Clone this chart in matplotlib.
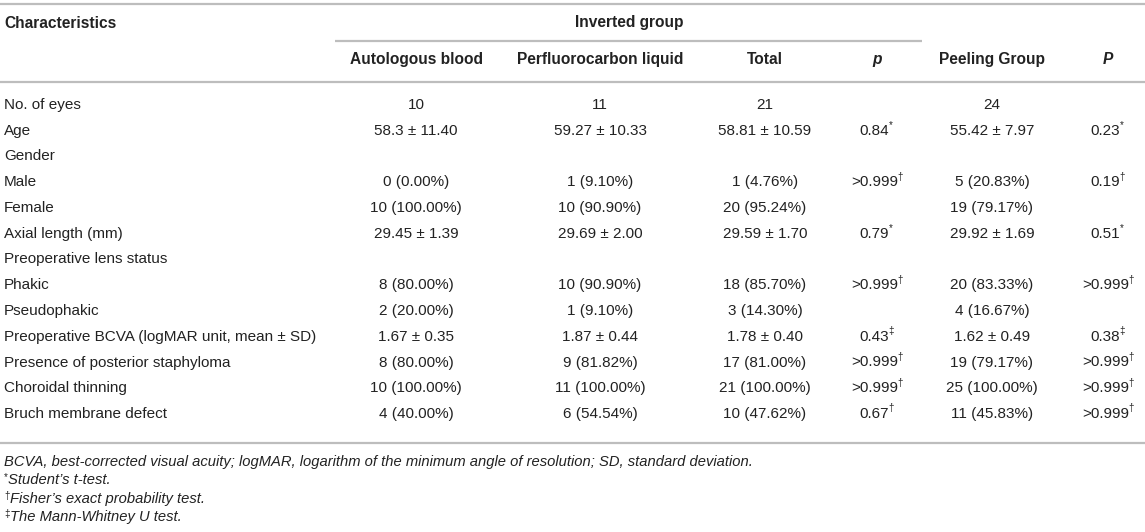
import matplotlib
matplotlib.use("Agg")
import matplotlib.pyplot as plt

plt.rcParams['font.family'] = ['Liberation Sans', 'DejaVu Sans']

# ---- table content ----
group_header = 'Inverted group'
col_headers = ['Autologous blood', 'Perfluorocarbon liquid', 'Total', 'p', 'Peeling Group', 'P']

row_labels = ['No. of eyes', 'Age', 'Gender', 'Male', 'Female', 'Axial length (mm)',
              'Preoperative lens status', 'Phakic', 'Pseudophakic',
              'Preoperative BCVA (logMAR unit, mean ± SD)',
              'Presence of posterior staphyloma', 'Choroidal thinning',
              'Bruch membrane defect']

autologous = ['10', '58.3 ± 11.40', '', '0 (0.00%)', '10 (100.00%)', '29.45 ± 1.39', '',
              '8 (80.00%)', '2 (20.00%)', '1.67 ± 0.35', '8 (80.00%)', '10 (100.00%)',
              '4 (40.00%)']
perfluoro = ['11', '59.27 ± 10.33', '', '1 (9.10%)', '10 (90.90%)', '29.69 ± 2.00', '',
             '10 (90.90%)', '1 (9.10%)', '1.87 ± 0.44', '9 (81.82%)', '11 (100.00%)',
             '6 (54.54%)']
total = ['21', '58.81 ± 10.59', '', '1 (4.76%)', '20 (95.24%)', '29.59 ± 1.70', '',
         '18 (85.70%)', '3 (14.30%)', '1.78 ± 0.40', '17 (81.00%)', '21 (100.00%)',
         '10 (47.62%)']
p_inverted = ['', '0.84*', '', '>0.999†', '', '0.79*', '', '>0.999†', '', '0.43‡',
              '>0.999†', '>0.999†', '0.67†']
peeling = ['24', '55.42 ± 7.97', '', '5 (20.83%)', '19 (79.17%)', '29.92 ± 1.69', '',
           '20 (83.33%)', '4 (16.67%)', '1.62 ± 0.49', '19 (79.17%)', '25 (100.00%)',
           '11 (45.83%)']
p_peeling = ['', '0.23*', '', '0.19†', '', '0.51*', '', '>0.999†', '', '0.38‡',
             '>0.999†', '>0.999†', '>0.999†']

footnote_marks = ['', '*', '†', '‡']
footnotes = ['BCVA, best-corrected visual acuity; logMAR, logarithm of the minimum angle '
             'of resolution; SD, standard deviation.',
             'Student’s t-test.',
             'Fisher’s exact probability test.',
             'The Mann-Whitney U test.']

# ---- layout (pixels) ----
W, H = 1145, 532
col_x = [416, 600, 765, 877, 992, 1108]
row_y0, row_dy = 105, 25.75
base = 4  # baseline offset below the visual row centre
text_color = '#222222'
line_color = '#bdbdbd'
fs = 11
fs_bold = 11.2
fs_mark = 7

fig = plt.figure(figsize=(W / 100, H / 100), dpi=100)
ax = fig.add_axes([0, 0, 1, 1])
ax.set_xlim(0, W)
ax.set_ylim(H, 0)
ax.axis('off')

# rules
ax.hlines([4, 82, 443], 0, W, color=line_color, linewidth=1.6)
ax.hlines(41, 335, 922, color=line_color, linewidth=1.6)

# header
ax.text(4, 24 + base, 'Characteristics', ha='left', va='baseline', fontsize=fs_bold,
        fontweight='bold', color=text_color)
ax.text(629, 23 + base, group_header, ha='center', va='baseline', fontsize=fs_bold,
        fontweight='bold', color=text_color)
for x, h in zip(col_x, col_headers):
    style = 'italic' if h in ('p', 'P') else 'normal'
    ax.text(x, 60 + base, h, ha='center', va='baseline', fontsize=fs_bold,
            fontweight='bold', fontstyle=style, color=text_color)

# body
columns = [autologous, perfluoro, total, p_inverted, peeling, p_peeling]
for i, label in enumerate(row_labels):
    y = row_y0 + i * row_dy + base
    ax.text(4, y, label, ha='left', va='baseline', fontsize=fs, color=text_color)
    for x, col in zip(col_x, columns):
        s = col[i]
        if not s:
            continue
        if s[-1] in '*†‡':
            t = ax.text(x - 2.5, y, s[:-1], ha='center', va='baseline', fontsize=fs,
                        color=text_color)
            ax.annotate(s[-1], xy=(1, 0.55), xycoords=t, xytext=(-0.6, 0),
                        textcoords='offset points', ha='left', va='bottom',
                        fontsize=fs_mark, color=text_color)
        else:
            ax.text(x, y, s, ha='center', va='baseline', fontsize=fs, color=text_color)

# footnotes (marks drawn as small separate texts)
for j, (mark, note) in enumerate(zip(footnote_marks, footnotes)):
    y = 462 + j * 18.5 + base
    x0 = 4
    if mark:
        ax.text(4, y - 4, mark, ha='left', va='baseline', fontsize=fs_mark,
                color=text_color)
        x0 = 8 if mark == '*' else 10
    ax.text(x0, y, note, ha='left', va='baseline', fontsize=10.6,
            fontstyle='italic', color=text_color)

fig.savefig('out.png', dpi=100, facecolor='white')
